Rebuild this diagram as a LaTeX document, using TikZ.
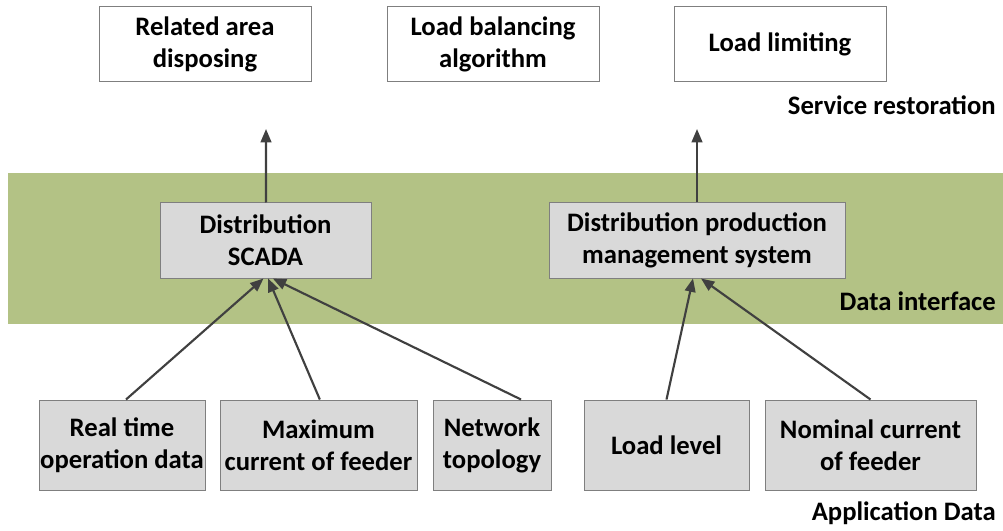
\documentclass[tikz,border=0pt]{standalone}
\usepackage{fontspec}
\setmainfont{Carlito}
\usetikzlibrary{arrows.meta}
\definecolor{band}{RGB}{179,194,133}
\definecolor{boxgray}{RGB}{217,217,217}
\definecolor{edge}{RGB}{127,127,127}
\definecolor{arr}{RGB}{64,64,64}

\begin{document}
\begin{tikzpicture}[x=0.75pt,y=-0.75pt,
    every node/.style={font=\fontsize{20}{24}\selectfont\bfseries,align=center,inner sep=0pt},
    service/.style={draw=edge,fill=white,line width=0.75pt,minimum width=159pt,minimum height=56.25pt},
    system/.style={draw=edge,fill=boxgray,line width=0.75pt,minimum height=56.25pt},
    datum/.style={draw=edge,fill=boxgray,line width=0.75pt,minimum height=67.5pt},
    flow/.style={-{Triangle[length=10pt,width=8pt]},draw=arr,line width=1.6pt}]
 \useasboundingbox (0,0) rectangle (1003,531);
 \fill[band] (8,173) rectangle (1003,324);
 % service restoration layer
 \node[service] (area) at (205,44.5) {Related area\\disposing};
 \node[service] (balance) at (493,44.5) {Load balancing\\algorithm};
 \node[service] (limit) at (780,44.5) {Load limiting};
 \node[anchor=east] (srlabel) at (996,105) {Service restoration};
 % data interface layer
 \node[system,minimum width=158.25pt] (scada) at (265.5,240.5) {Distribution\\SCADA};
 \node[system,minimum width=222pt] (dpms) at (697,240.5) {Distribution production\\management system};
 \node[anchor=east] (dilabel) at (996,301) {Data interface};
 % application data layer
 \node[datum,minimum width=124.5pt] (realtime) at (122,445) {Real time\\operation data};
 \node[datum,minimum width=147.75pt] (maxcur) at (318.5,445) {Maximum\\current of feeder};
 \node[datum,minimum width=88.5pt] (topo) at (492,445) {Network\\topology};
 \node[datum,minimum width=123.75pt] (level) at (666.5,445) {Load level};
 \node[datum,minimum width=158.25pt] (nominal) at (870.5,445) {Nominal current\\of feeder};
 \node[anchor=east] (adlabel) at (996,513) {Application Data};
 \coordinate (up1) at (266,129);
 \coordinate (up2) at (697,129);
 \draw[flow] ([xshift=0.4pt]scada.north) -- (up1);
 \draw[flow] (dpms.north) -- (up2);
 \draw[flow] ([xshift=3pt]realtime.north) -- ([xshift=-1.5pt]scada.south);
 \draw[flow] ([xshift=1pt]maxcur.north) -- ([xshift=2pt]scada.south);
 \draw[flow] ([xshift=21.75pt]topo.north) -- ([xshift=5.5pt]scada.south);
 \draw[flow] (level.north) -- ([xshift=-3pt]dpms.south);
 \draw[flow] (nominal.north) -- ([xshift=3pt]dpms.south);
\end{tikzpicture}
\end{document}
